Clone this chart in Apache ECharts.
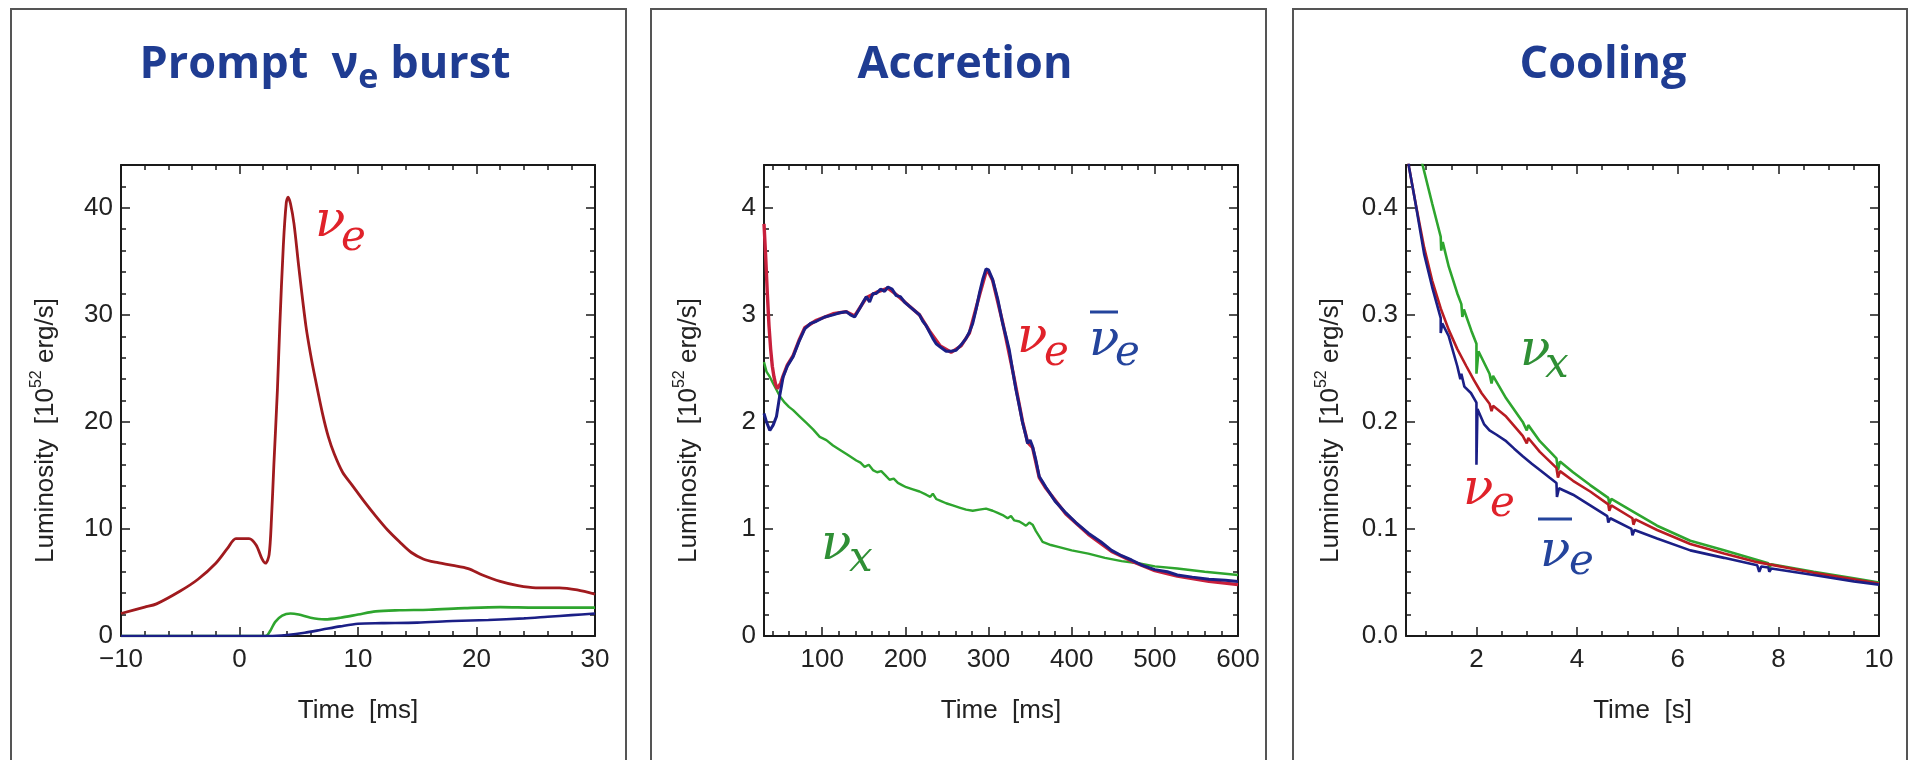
<!DOCTYPE html>
<html>
<head>
<meta charset="utf-8">
<title>Supernova neutrino luminosity</title>
<script src="https://cdn.jsdelivr.net/npm/echarts@6.0.0/dist/echarts.min.js"></script>
<style>
  html, body { margin: 0; padding: 0; background: #fff; }
  #chart { width: 1916px; height: 760px; }
</style>
</head>
<body>
<div id="chart"></div>
<script>
// ---- data: [time, luminosity (10^52 erg/s)] ----
var burstNuE = [[-10, 2.1], [-8, 2.7], [-7, 3.0], [-5, 4.2], [-3.5, 5.3], [-2, 6.8], [-1, 8.2], [-0.3, 9.1],
  [0.8, 9.1], [1.4, 8.5], [1.9, 7.2], [2.2, 6.8], [2.5, 7.6], [2.7, 11], [2.9, 16], [3.2, 23], [3.4, 29],
  [3.7, 36.5], [3.95, 40.5], [4.1, 41], [4.3, 40.4], [4.6, 38.5], [5.0, 34.5], [5.6, 29], [6.0, 26.3],
  [6.4, 24], [7.0, 20.8], [7.5, 18.6], [8.0, 17], [8.7, 15.3], [9.5, 14.1], [10.5, 12.6], [11.5, 11.2],
  [12.5, 9.9], [13.5, 8.8], [14.5, 7.8], [15.5, 7.2], [16.5, 6.9], [18, 6.6], [19.3, 6.3], [20.5, 5.7],
  [22, 5.1], [23.5, 4.7], [25, 4.5], [27, 4.5], [28.5, 4.3], [30, 3.9]];
var burstNuX = [[-10, 0], [2.2, 0], [2.6, 0.5], [3.0, 1.3], [3.6, 1.9], [4.3, 2.1], [5.0, 2.0], [6.0, 1.7],
  [7.2, 1.55], [8.5, 1.7], [10, 2.0], [11.5, 2.3], [13.5, 2.4], [16, 2.45], [19, 2.6], [22, 2.7], [25, 2.65], [30, 2.65]];
var burstNuEBar = [[-10, 0], [2.5, 0], [4, 0.1], [5.5, 0.3], [7, 0.6], [8.5, 0.9], [10, 1.15], [12, 1.2],
  [15, 1.25], [18, 1.4], [21, 1.5], [24, 1.65], [26, 1.8], [28, 1.95], [30, 2.1]];

var accrNuE = [[30, 3.85], [32, 3.55], [34, 3.2], [36, 2.9], [38, 2.68], [40, 2.52], [42, 2.42], [44, 2.35],
  [46, 2.31], [48, 2.3], [50, 2.36], [53, 2.43], [58, 2.53], [65, 2.62], [72, 2.76], [79, 2.88], [93, 2.95],
  [113, 3.01], [129, 3.03], [139, 2.99], [153, 3.16], [165, 3.21], [179, 3.25], [189, 3.19], [205, 3.08],
  [217, 3.0], [229, 2.85], [242, 2.71], [255, 2.65], [267, 2.71], [277, 2.83], [289, 3.18], [297, 3.40],
  [300, 3.40], [305, 3.32], [317, 2.93], [329, 2.48], [341, 2.0], [347, 1.81], [353, 1.76], [361, 1.48],
  [369, 1.38], [393, 1.14], [420, 0.95], [448, 0.79], [472, 0.70], [500, 0.61], [527, 0.56], [565, 0.51], [600, 0.48]];
var accrNuEBar = [[30, 2.08], [33, 2.0], [37, 1.92], [41, 1.97], [45, 2.05], [49, 2.25], [53, 2.42], [58, 2.52],
  [65, 2.61], [72, 2.75], [79, 2.87], [86, 2.92], [93, 2.94], [103, 2.98], [113, 3.0], [121, 3.02], [129, 3.03],
  [134, 3.0], [139, 2.98], [145, 3.06], [150, 3.13], [153, 3.17], [157, 3.12], [161, 3.2], [165, 3.2],
  [170, 3.24], [175, 3.22], [179, 3.26], [184, 3.24], [189, 3.18], [194, 3.17], [199, 3.12], [205, 3.08],
  [211, 3.04], [217, 3.0], [221, 2.94], [225, 2.9], [229, 2.84], [233, 2.78], [237, 2.73], [242, 2.70],
  [249, 2.66], [255, 2.66], [261, 2.67], [267, 2.72], [271, 2.76], [273, 2.78], [277, 2.84], [281, 2.92],
  [285, 3.05], [289, 3.2], [293, 3.33], [297, 3.43], [300, 3.42], [305, 3.33], [311, 3.15], [317, 2.92],
  [321, 2.80], [325, 2.67], [329, 2.48], [333, 2.30], [337, 2.15], [341, 1.99], [345, 1.87], [347, 1.80],
  [350, 1.83], [353, 1.77], [357, 1.64], [361, 1.49], [365, 1.44], [369, 1.39], [380, 1.26], [393, 1.15],
  [405, 1.06], [420, 0.96], [435, 0.88], [448, 0.80], [460, 0.75], [472, 0.71], [485, 0.66], [500, 0.62],
  [515, 0.60], [527, 0.57], [545, 0.55], [565, 0.53], [585, 0.52], [600, 0.51]];
var accrNuX = [[30, 2.56], [33, 2.47], [37, 2.42], [41, 2.36], [45, 2.3], [49, 2.24], [55, 2.18], [60, 2.14],
  [65, 2.11], [73, 2.05], [81, 1.99], [89, 1.93], [97, 1.86], [105, 1.83], [113, 1.78], [121, 1.74],
  [131, 1.69], [141, 1.64], [146, 1.62], [151, 1.58], [156, 1.60], [161, 1.55], [166, 1.53], [171, 1.54],
  [176, 1.50], [181, 1.46], [186, 1.47], [191, 1.43], [196, 1.41], [201, 1.39], [209, 1.37], [217, 1.35],
  [225, 1.32], [230, 1.30], [233, 1.33], [237, 1.28], [243, 1.26], [249, 1.24], [257, 1.22], [265, 1.20],
  [273, 1.18], [281, 1.17], [289, 1.18], [297, 1.19], [305, 1.17], [311, 1.15], [317, 1.13], [323, 1.10],
  [327, 1.12], [331, 1.08], [337, 1.07], [341, 1.05], [345, 1.03], [349, 1.06], [353, 1.04], [357, 0.98],
  [361, 0.93], [365, 0.88], [375, 0.85], [385, 0.83], [400, 0.80], [420, 0.77], [440, 0.73], [460, 0.70],
  [480, 0.68], [500, 0.65], [527, 0.63], [560, 0.60], [600, 0.57]];

var coolNuE = [[0.6, 0.46], [0.66, 0.438], [0.8, 0.402], [0.96, 0.363], [1.12, 0.332], [1.29, 0.306],
  [1.45, 0.286], [1.62, 0.268], [1.8, 0.252], [1.95, 0.239], [2.1, 0.227], [2.26, 0.217], [2.3, 0.21],
  [2.33, 0.215], [2.59, 0.205], [2.92, 0.187], [3.0, 0.18], [3.03, 0.185], [3.26, 0.172], [3.59, 0.157],
  [3.62, 0.148], [3.66, 0.154], [3.92, 0.145], [4.26, 0.135], [4.62, 0.123], [4.64, 0.117], [4.68, 0.122],
  [5.1, 0.110], [5.12, 0.104], [5.16, 0.109], [5.59, 0.099], [6.25, 0.086], [6.92, 0.077], [7.58, 0.069],
  [8.7, 0.059], [9.5, 0.053], [10, 0.049]];
var coolNuEBar = [[0.6, 0.47], [0.66, 0.438], [0.79, 0.404], [0.96, 0.357], [1.12, 0.326], [1.29, 0.297],
  [1.29, 0.283], [1.32, 0.292], [1.45, 0.280], [1.62, 0.252], [1.68, 0.24], [1.70, 0.245], [1.76, 0.233],
  [1.89, 0.227], [2.0, 0.218], [2.0, 0.160], [2.02, 0.212], [2.15, 0.198], [2.26, 0.192], [2.4, 0.188],
  [2.59, 0.182], [2.75, 0.175], [2.92, 0.168], [3.1, 0.161], [3.26, 0.155], [3.45, 0.148], [3.59, 0.143],
  [3.6, 0.13], [3.64, 0.138], [3.92, 0.132], [4.26, 0.122], [4.6, 0.112], [4.62, 0.106], [4.66, 0.110],
  [5.08, 0.100], [5.1, 0.094], [5.14, 0.099], [5.59, 0.091], [6.25, 0.080], [6.92, 0.073], [7.58, 0.066],
  [7.62, 0.060], [7.66, 0.065], [7.8, 0.064], [7.82, 0.060], [7.86, 0.063], [8.7, 0.057], [9.5, 0.051], [10, 0.048]];
var coolNuX = [[0.85, 0.46], [0.93, 0.44], [1.12, 0.404], [1.29, 0.373], [1.3, 0.36], [1.33, 0.368],
  [1.45, 0.345], [1.62, 0.320], [1.7, 0.31], [1.72, 0.298], [1.75, 0.305], [1.9, 0.285], [2.0, 0.273],
  [2.0, 0.245], [2.04, 0.266], [2.26, 0.245], [2.3, 0.236], [2.33, 0.243], [2.59, 0.222], [2.92, 0.200],
  [3.0, 0.192], [3.03, 0.197], [3.26, 0.182], [3.59, 0.166], [3.62, 0.155], [3.66, 0.163], [3.92, 0.153],
  [4.26, 0.141], [4.62, 0.129], [4.64, 0.123], [4.68, 0.128], [5.12, 0.116], [5.59, 0.103], [6.25, 0.089],
  [6.92, 0.080], [7.58, 0.071], [7.8, 0.068], [7.82, 0.064], [7.86, 0.067], [8.7, 0.060], [9.5, 0.054], [10, 0.050]];

// ---- axis ticks ----
var burstTicksX = [-10, 0, 10, 20, 30];
var burstTicksY = [0, 10, 20, 30, 40];
var accrTicksX = [100, 200, 300, 400, 500, 600];
var accrTicksY = [0, 1, 2, 3, 4];
var coolTicksX = [2, 4, 6, 8, 10];
var coolTicksY = [0, 0.1, 0.2, 0.3, 0.4];

var axisColor = '#1a1a1a';
var textColor = '#222';
var sansFont = '"Liberation Sans", Arial, sans-serif';
var titleBlue = '#1f3c92';

function minorTicks(min, max, step) {
  var out = [];
  for (var v = Math.ceil(min / step - 1e-9) * step; v <= max + 1e-9; v += step) {
    out.push(Math.round(v * 1000) / 1000);
  }
  return out;
}

function plainFmt(v) {
  return v < 0 ? '\u2212' + Math.abs(v) : String(v);
}

function makeAxes(dim, gi, min, max, major, minorStep, name, fmt) {
  var sides = dim === 'x' ? ['bottom', 'top'] : ['left', 'right'];
  var minor = minorTicks(min, max, minorStep);
  var line = { show: true, onZero: false, lineStyle: { color: axisColor, width: 2 } };
  var noLine = { show: false, onZero: false };
  var tickStyle = { color: axisColor, width: 1.5 };
  var base = { gridIndex: gi, type: 'value', min: min, max: max, splitLine: { show: false } };
  var main = Object.assign({}, base, {
    position: sides[0],
    axisLine: line,
    axisTick: { inside: true, length: 9, customValues: major, lineStyle: tickStyle },
    axisLabel: { customValues: major, formatter: fmt, margin: dim === 'x' ? 11 : 8,
      fontFamily: sansFont, fontSize: 26, color: textColor },
    name: name,
    nameLocation: 'middle'
  });
  if (dim === 'x') {
    main.nameGap = 62;
    main.nameTextStyle = { fontFamily: sansFont, fontSize: 26, color: textColor };
  } else {
    main.nameGap = 58;
    main.nameTextStyle = { fontFamily: sansFont, fontSize: 26, color: textColor, lineHeight: 34,
      padding: [0, 60, 0, 0],
      rich: { sup: { fontFamily: sansFont, fontSize: 16, color: textColor, verticalAlign: 'top', lineHeight: 16 } } };
  }
  return [
    main,
    Object.assign({}, base, { position: sides[1], axisLine: line,
      axisTick: { inside: true, length: 9, customValues: major, lineStyle: tickStyle }, axisLabel: { show: false } }),
    Object.assign({}, base, { position: sides[0], axisLine: noLine,
      axisTick: { inside: true, length: 5, customValues: minor, lineStyle: tickStyle }, axisLabel: { show: false } }),
    Object.assign({}, base, { position: sides[1], axisLine: noLine,
      axisTick: { inside: true, length: 5, customValues: minor, lineStyle: tickStyle }, axisLabel: { show: false } })
  ];
}

var lumName = 'Luminosity  [10{sup|52} erg/s]';

var xAxes = [].concat(
  makeAxes('x', 0, -10, 30, burstTicksX, 2, 'Time  [ms]', plainFmt),
  makeAxes('x', 1, 30, 600, accrTicksX, 20, 'Time  [ms]', plainFmt),
  makeAxes('x', 2, 0.6, 10, coolTicksX, 0.5, 'Time  [s]', plainFmt)
);
var yAxes = [].concat(
  makeAxes('y', 0, 0, 44, burstTicksY, 2, lumName, plainFmt),
  makeAxes('y', 1, 0, 4.4, accrTicksY, 0.2, lumName, plainFmt),
  makeAxes('y', 2, 0, 0.44, coolTicksY, 0.02, lumName, function (v) { return v.toFixed(1); })
);

function line(name, data, gi, color, width, smooth) {
  return {
    name: name, type: 'line', data: data,
    xAxisIndex: gi * 4, yAxisIndex: gi * 4,
    showSymbol: false, symbol: 'none', smooth: smooth || false,
    lineStyle: { color: color, width: width }, itemStyle: { color: color }
  };
}

var red = '#a01a1e', green = '#2ea52e', navy = '#1b1f86';

// ν labels drawn as text
function nuLabel(x, y, sub, subX, subY, color, bar) {
  var els = [
    { type: 'text', x: x, y: y, style: { text: '\u03bd', fontFamily: '"DejaVu Serif", serif', fontStyle: 'italic',
      fontSize: 50, fill: color, align: 'left', verticalAlign: 'middle' } },
    { type: 'text', x: subX, y: subY, style: { text: sub, fontFamily: '"DejaVu Serif", serif', fontStyle: 'italic',
      fontSize: 42, fill: color, align: 'left', verticalAlign: 'middle' } }
  ];
  if (bar) {
    els.push({ type: 'line', shape: { x1: bar[0], y1: bar[2], x2: bar[1], y2: bar[2] },
      style: { stroke: color, lineWidth: 3 } });
  }
  return els;
}

var labelRed = '#e0222a', labelBlue = '#24449c', labelGreen = '#2f8f35';

var graphics = [
  { type: 'rect', shape: { x: 11, y: 9, width: 615, height: 800 }, style: { fill: 'none', stroke: '#555', lineWidth: 2 } },
  { type: 'rect', shape: { x: 651, y: 9, width: 615, height: 800 }, style: { fill: 'none', stroke: '#555', lineWidth: 2 } },
  { type: 'rect', shape: { x: 1293, y: 9, width: 614, height: 800 }, style: { fill: 'none', stroke: '#555', lineWidth: 2 } }
].concat(
  nuLabel(315, 223, 'e', 341, 239, labelRed),
  nuLabel(1017, 339, 'e', 1044, 354, labelRed),
  nuLabel(1089, 342, 'e', 1115, 354, labelBlue, [1090, 1118, 312]),
  nuLabel(821, 546, 'x', 849, 560, labelGreen),
  nuLabel(1520, 352, 'x', 1545, 366, labelGreen),
  nuLabel(1463, 491, 'e', 1490, 505, labelRed),
  nuLabel(1540, 553, 'e', 1569, 563, labelBlue, [1538, 1572, 519])
);

function panelTitle(text, cx) {
  return {
    text: text, left: cx, top: 30, textAlign: 'center',
    textStyle: {
      rich: {
        t: { fontFamily: '"Open Sans", sans-serif', fontWeight: 'bold', fontSize: 45, color: titleBlue, lineHeight: 60 },
        s: { fontFamily: '"Open Sans", sans-serif', fontWeight: 'bold', fontSize: 34, color: titleBlue,
          lineHeight: 30, verticalAlign: 'bottom' }
      }
    }
  };
}

var chart = echarts.init(document.getElementById('chart'));
var option = {
  backgroundColor: '#fff',
  animation: false,
  title: [
    panelTitle('{t|Prompt  \u03bd}{s|e}{t| burst}', 320),
    panelTitle('{t|Accretion}', 960),
    panelTitle('{t|Cooling}', 1598)
  ],
  grid: [
    { left: 121, top: 165, width: 474, height: 471 },
    { left: 764, top: 165, width: 474, height: 471 },
    { left: 1406, top: 165, width: 473, height: 471 }
  ],
  xAxis: xAxes,
  yAxis: yAxes,
  graphic: graphics,
  series: [
    line('nu_e', burstNuE, 0, red, 2.8, 0.3),
    line('nu_x', burstNuX, 0, green, 2.6, 0.3),
    line('anti nu_e', burstNuEBar, 0, navy, 2.6, 0.3),
    line('nu_x', accrNuX, 1, green, 2.4),
    line('nu_e', accrNuE, 1, '#c8203c', 3.4),
    line('anti nu_e', accrNuEBar, 1, navy, 3),
    line('nu_x', coolNuX, 2, green, 2.6),
    line('nu_e', coolNuE, 2, '#b81c22', 2.6),
    line('anti nu_e', coolNuEBar, 2, navy, 2.6)
  ]
};
chart.setOption(option);
</script>
</body>
</html>
